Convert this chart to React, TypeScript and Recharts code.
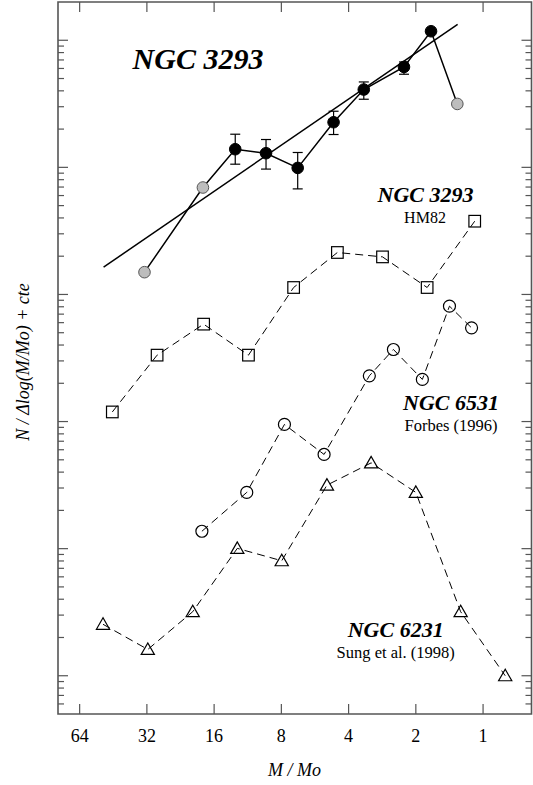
import React from 'react';
import { ComposedChart, Line, XAxis, YAxis, ErrorBar, ReferenceArea } from 'recharts';

const W = 533;
const H = 785;
const PLOT = { left: 58, right: 531.5, top: 2, bottom: 714 };
const FONT = '"Liberation Serif", "Times New Roman", serif';
const AXIS_COLOR = '#555';

// NGC 3293 (this work): mass bins, counts and 1-sigma bounds
const massMain = [32.8, 17.96, 12.87, 9.37, 6.76, 4.67, 3.42, 2.26, 1.71, 1.304];
const countMain = [1497, 6940, 13890, 12920, 9900, 22650, 40950, 61660, 117700, 31550];
const lowMain = [null, null, 10590, 9690, 6770, 18130, 34350, 54030, null, null];
const highMain = [null, null, 18230, 16560, 13090, 27640, 46990, 67500, null, null];
// bins left out of the fit (drawn grey)
const excludedBins = [0, 1, 9];

// power-law fit to NGC 3293
const fitMass = [50, 1.3];
const fitCount = [1640, 133600];

// NGC 3293, HM82
const massHM82 = [45.7, 28.8, 17.83, 11.23, 7.05, 4.49, 2.82, 1.78, 1.09];
const countHM82 = [119, 333, 584, 333, 1134, 2139, 1975, 1134, 3770];

// NGC 6531, Forbes (1996)
const massForbes = [18.15, 11.43, 7.75, 5.15, 3.23, 2.52, 1.87, 1.414, 1.126];
const countForbes = [13.7, 27.7, 94.9, 55.1, 228.8, 369, 214.5, 809, 546];

// NGC 6231, Sung et al. (1998)
const massSung = [50.3, 31.7, 19.95, 12.6, 7.97, 5.0, 3.17, 2.0, 1.26, 0.796];
const countSung = [2.54, 1.61, 3.19, 10.05, 8.03, 31.6, 47.3, 27.7, 3.19, 1.0];

const xTicks = [64, 32, 16, 8, 4, 2, 1];
const yDecades = [1, 10, 100, 1000, 10000];
const yMultipliers = [1, 2, 3, 4, 5, 6, 7, 8, 9];
const yBelowOne = [0.6, 0.7, 0.8, 0.9];
const yTop = [100000];

const yTicks = [
  ...yBelowOne,
  ...yDecades.flatMap((d) => yMultipliers.map((k) => k * d)),
  ...yTop,
];

const mainData = massMain.map((m, i) => ({
  m,
  n: countMain[i],
  lo: lowMain[i],
  hi: highMain[i],
  excluded: excludedBins.includes(i),
}));
const fitData = fitMass.map((m, i) => ({ m, n: fitCount[i] }));
const hm82Data = massHM82.map((m, i) => ({ m, n: countHM82[i] }));
const forbesData = massForbes.map((m, i) => ({ m, n: countForbes[i] }));
const sungData = massSung.map((m, i) => ({ m, n: countSung[i] }));

const isDecade = (v: number) => Math.abs(Math.log10(v) - Math.round(Math.log10(v))) < 1e-6;

const YTick = (props: any) => {
  const { y, payload } = props;
  const len = isDecade(payload.value) ? 10 : 6;
  return (
    <g stroke={AXIS_COLOR} strokeWidth={1.2}>
      <line x1={PLOT.left} x2={PLOT.left + len} y1={y} y2={y} />
      <line x1={PLOT.right - len} x2={PLOT.right} y1={y} y2={y} />
    </g>
  );
};

const XTick = (props: any) => {
  const { x, payload } = props;
  return (
    <g>
      <line x1={x} x2={x} y1={PLOT.bottom} y2={PLOT.bottom - 10} stroke={AXIS_COLOR} strokeWidth={1.2} />
      <line x1={x} x2={x} y1={PLOT.top} y2={PLOT.top + 10} stroke={AXIS_COLOR} strokeWidth={1.2} />
      <text x={x} y={742} textAnchor="middle" fontFamily={FONT} fontSize={18} fill="#000">
        {payload.value}
      </text>
    </g>
  );
};

const MainDot = (props: any) => {
  const { cx, cy, payload, index } = props;
  return (
    <circle
      key={index}
      cx={cx}
      cy={cy}
      r={5.8}
      fill={payload.excluded ? '#bdbdbd' : '#000'}
      stroke={payload.excluded ? '#555' : '#000'}
      strokeWidth={1}
    />
  );
};

const SquareDot = (props: any) => {
  const { cx, cy, index } = props;
  return <rect key={index} x={cx - 5.8} y={cy - 5.8} width={11.6} height={11.6} fill="none" stroke="#000" strokeWidth={1.2} />;
};

const CircleDot = (props: any) => {
  const { cx, cy, index } = props;
  return <circle key={index} cx={cx} cy={cy} r={6} fill="none" stroke="#000" strokeWidth={1.2} />;
};

const TriangleDot = (props: any) => {
  const { cx, cy, index } = props;
  const pts = `${cx},${cy - 6.5} ${cx - 6.6},${cy + 5} ${cx + 6.6},${cy + 5}`;
  return <polygon key={index} points={pts} fill="none" stroke="#000" strokeWidth={1.2} />;
};

const errorOffsets = (d: any) => (d.lo == null ? undefined : [d.n - d.lo, d.hi - d.n]);

export default function App() {
  return (
    <div style={{ position: 'absolute', left: 0, top: 0, width: W, height: H, background: '#fff' }}>
      <ComposedChart
        width={W}
        height={H}
        margin={{ top: PLOT.top, right: W - PLOT.right, bottom: 0, left: 0 }}
      >
        <XAxis
          type="number"
          dataKey="m"
          scale="log"
          domain={[0.607, 80]}
          reversed
          allowDataOverflow
          ticks={xTicks}
          interval={0}
          height={H - PLOT.bottom}
          axisLine={false}
          tickLine={false}
          tick={<XTick />}
        />
        <YAxis
          type="number"
          dataKey="n"
          scale="log"
          domain={[0.5, 200000]}
          allowDataOverflow
          ticks={yTicks}
          interval={0}
          width={PLOT.left}
          axisLine={false}
          tickLine={false}
          tick={<YTick />}
        />
        <ReferenceArea
          x1={0.607}
          x2={80}
          y1={0.5}
          y2={200000}
          fill="none"
          stroke={AXIS_COLOR}
          strokeWidth={1.6}
          ifOverflow="visible"
        />
        <Line
          data={fitData}
          dataKey="n"
          stroke="#000"
          strokeWidth={1.5}
          dot={false}
          isAnimationActive={false}
        />
        <Line
          data={hm82Data}
          dataKey="n"
          stroke="#000"
          strokeWidth={1}
          strokeDasharray="8 5"
          dot={<SquareDot />}
          isAnimationActive={false}
        />
        <Line
          data={forbesData}
          dataKey="n"
          stroke="#000"
          strokeWidth={1}
          strokeDasharray="8 5"
          dot={<CircleDot />}
          isAnimationActive={false}
        />
        <Line
          data={sungData}
          dataKey="n"
          stroke="#000"
          strokeWidth={1}
          strokeDasharray="8 5"
          dot={<TriangleDot />}
          isAnimationActive={false}
        />
        <Line
          data={mainData}
          dataKey="n"
          stroke="#000"
          strokeWidth={1.5}
          dot={<MainDot />}
          isAnimationActive={false}
        >
          <ErrorBar dataKey={errorOffsets} direction="y" width={5} stroke="#000" strokeWidth={1.2} />
        </Line>
      </ComposedChart>
      <svg
        width={W}
        height={H}
        style={{ position: 'absolute', left: 0, top: 0, pointerEvents: 'none' }}
        fontFamily={FONT}
      >
        <text x={198} y={69} textAnchor="middle" fontSize={30} fontWeight="bold" fontStyle="italic">
          NGC 3293
        </text>
        <text x={425.5} y={202} textAnchor="middle" fontSize={22} fontWeight="bold" fontStyle="italic">
          NGC 3293
        </text>
        <text x={425} y={223} textAnchor="middle" fontSize={16}>
          HM82
        </text>
        <text x={451} y={410} textAnchor="middle" fontSize={22} fontWeight="bold" fontStyle="italic">
          NGC 6531
        </text>
        <text x={451} y={431} textAnchor="middle" fontSize={16.5}>
          Forbes (1996)
        </text>
        <text x={395.7} y={637} textAnchor="middle" fontSize={22} fontWeight="bold" fontStyle="italic">
          NGC 6231
        </text>
        <text x={395.7} y={658} textAnchor="middle" fontSize={16.5}>
          Sung et al. (1998)
        </text>
        <text x={294.6} y={776} textAnchor="middle" fontSize={18} fontStyle="italic">
          M / Mo
        </text>
        <text
          x={0}
          y={0}
          transform="translate(29, 362) rotate(-90)"
          textAnchor="middle"
          fontSize={18}
          fontStyle="italic"
        >
          N / Δlog(M/Mo) + cte
        </text>
      </svg>
    </div>
  );
}
